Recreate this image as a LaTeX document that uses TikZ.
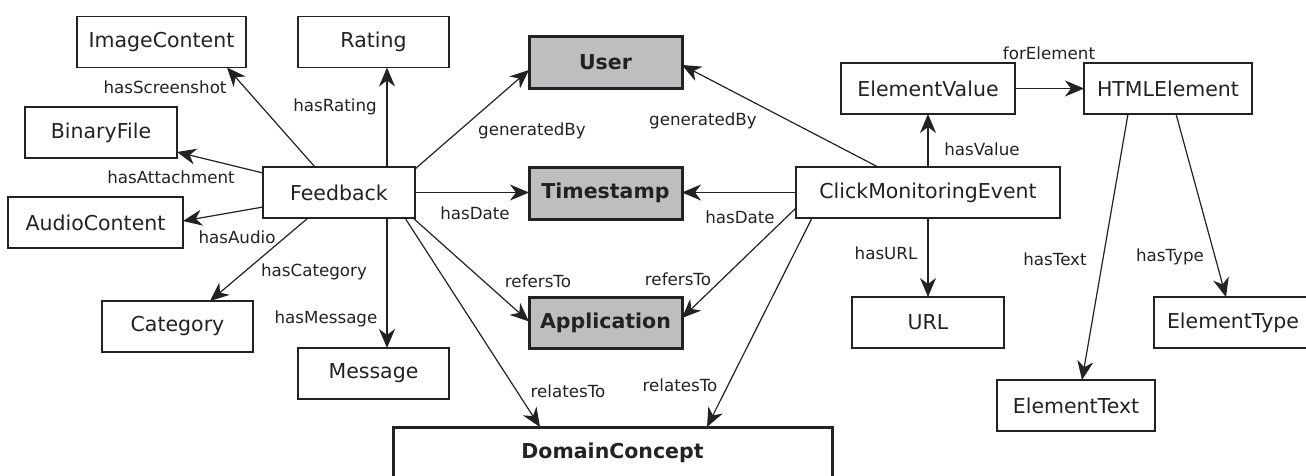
\documentclass[tikz,border=0pt]{standalone}
\usepackage{fontspec}
\setmainfont{DejaVu Sans}
\usetikzlibrary{arrows.meta}
\definecolor{boxgray}{RGB}{190,190,193}
\definecolor{ink}{RGB}{34,34,34}
\tikzset{
  cls/.style={draw=ink, line width=1.3pt, minimum height=51pt, inner sep=0pt, outer sep=0pt,
    font=\fontsize{20.5}{24}\selectfont, text=ink},
  core/.style={cls, line width=3pt, fill=boxgray, font=\fontsize{20.5}{24}\selectfont\bfseries},
  dom/.style={cls, line width=3pt, font=\fontsize{20.5}{24}\selectfont\bfseries},
  lbl/.style={font=\fontsize{16.7}{20}\selectfont, text=ink, inner sep=0pt},
  rel/.style={draw=ink, line width=1.2pt, -{Stealth[length=19pt, width=16pt, inset=6pt]}},
}
\begin{document}
\begin{tikzpicture}[x=1pt, y=-1pt]
\useasboundingbox (0,0) rectangle (1306,475);
% classes
\node[cls, minimum width=169pt] (img) at (161.5,42) {ImageContent};
\node[cls, minimum width=151pt] (rating) at (373.5,42) {Rating};
\node[cls, minimum width=152pt] (bin) at (101,132.5) {BinaryFile};
\node[cls, minimum width=152pt] (fb) at (339,192.5) {Feedback};
\node[cls, minimum width=175pt] (audio) at (95.5,222.5) {AudioContent};
\node[cls, minimum width=151pt] (cat) at (177.5,326.5) {Category};
\node[cls, minimum width=151pt] (msg) at (373.5,373.5) {Message};
\node[dom, minimum width=439pt, minimum height=52pt] (dc) at (612.5,453) {DomainConcept};
\node[core, minimum width=153pt, minimum height=52pt] (user) at (605.5,62) {User};
\node[core, minimum width=153pt, minimum height=52pt] (ts) at (605.5,193) {Timestamp};
\node[core, minimum width=153pt] (app) at (605.5,322.5) {Application};
\node[cls, minimum width=264pt] (cme) at (928,192.5) {ClickMonitoringEvent};
\node[cls, minimum width=174pt] (ev) at (928,88.5) {ElementValue};
\node[cls, minimum width=168pt] (html) at (1168,88.5) {HTMLElement};
\node[cls, minimum width=152pt] (url) at (928,322.5) {URL};
\node[cls, minimum width=158pt] (etype) at (1233,322.5) {ElementType};
\node[cls, minimum width=158pt] (etext) at (1076,405.5) {ElementText};
% connectors
\draw[rel] ([xshift=52pt]fb.north west) -- ([xshift=-19pt]img.south east);
\draw[rel] ([xshift=48pt]fb.north) -- ([xshift=13.5pt]rating.south);
\draw[rel] ([yshift=19.5pt]fb.west) -- ([yshift=-19.5pt]bin.east);
\draw[rel] ([yshift=-14.5pt]fb.west) -- ([yshift=1.5pt]audio.east);
\draw[rel] ([xshift=-31pt]fb.south) -- ([xshift=32.5pt]cat.north);
\draw[rel] ([xshift=48pt]fb.south) -- ([xshift=13.5pt]msg.north);
\draw[rel] ([yshift=-2pt]fb.north east) -- ([yshift=-8pt]user.west);
\draw[rel] (fb.east) -- (fb.east -| ts.west);
\draw[rel] ([xshift=-2pt]fb.south east) -- ([yshift=1pt]app.west);
\draw[rel] ([xshift=-10pt]fb.south east) -- ([xshift=147pt]dc.north west);
\draw[rel] ([xshift=82pt]cme.north west) -- ([yshift=-3pt]user.east);
\draw[rel] (cme.west) -- (cme.west -| ts.east);
\draw[rel] ([yshift=-15.5pt]cme.west) -- ([yshift=4.5pt]app.east);
\draw[rel] ([xshift=16pt]cme.south west) -- ([xshift=314pt]dc.north west);
\draw[rel] (cme.north) -- (ev.south);
\draw[rel] (cme.south) -- (url.north);
\draw[rel] (ev.east) -- (html.west);
\draw[rel] ([xshift=-40pt]html.south) -- ([xshift=6pt]etext.north);
\draw[rel] ([xshift=8pt]html.south) -- ([xshift=-7pt]etype.north);
% labels
\node[lbl] (l1) at (165,87) {hasScreenshot};
\node[lbl] (l2) at (335,107) {hasRating};
\node[lbl] (l3) at (171,177) {hasAttachment};
\node[lbl] (l4) at (237,237) {hasAudio};
\node[lbl] (l5) at (314,272) {hasCategory};
\node[lbl] (l6) at (326,319) {hasMessage};
\node[lbl] (l7) at (532,131) {generatedBy};
\node[lbl] (l8) at (475,213) {hasDate};
\node[lbl] (l9) at (538,281) {refersTo};
\node[lbl] (l10) at (568,391) {relatesTo};
\node[lbl] (l11) at (703,121) {generatedBy};
\node[lbl] (l12) at (740,217) {hasDate};
\node[lbl] (l13) at (678,279) {refersTo};
\node[lbl] (l14) at (680,385) {relatesTo};
\node[lbl] (l15) at (982,149) {hasValue};
\node[lbl] (l16) at (886,253) {hasURL};
\node[lbl] (l17) at (1049,53) {forElement};
\node[lbl] (l18) at (1055,259) {hasText};
\node[lbl] (l19) at (1170,257) {hasType};
\end{tikzpicture}
\end{document}
